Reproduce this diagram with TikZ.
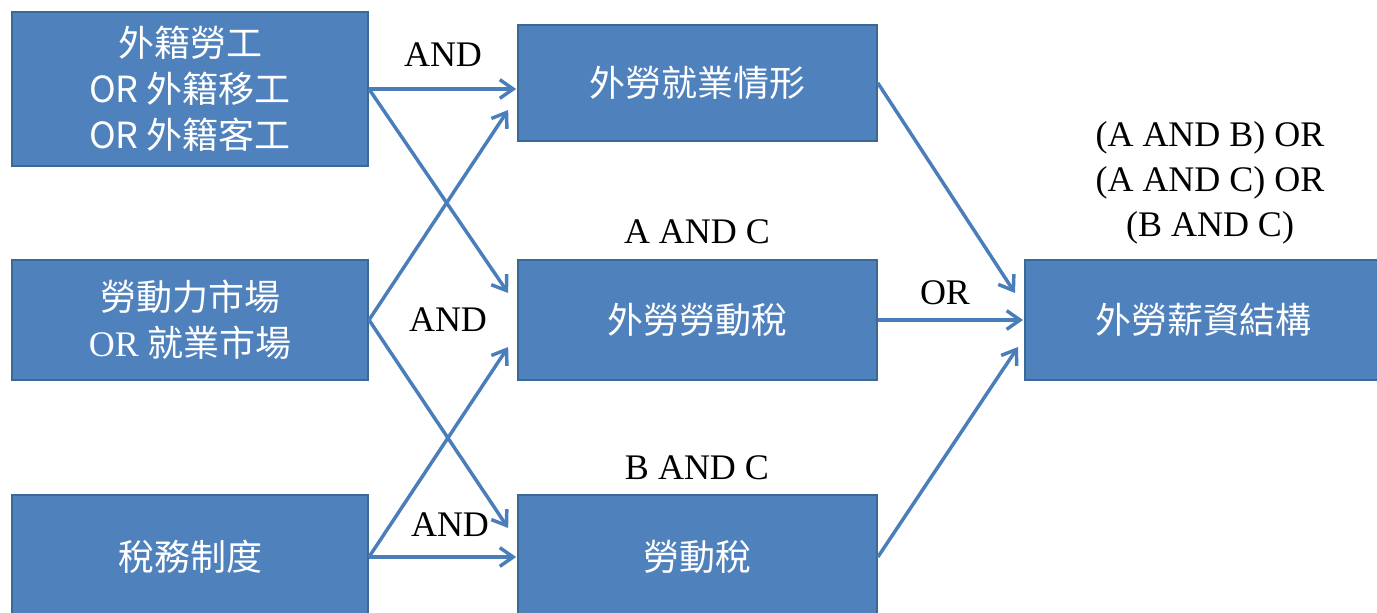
\documentclass[tikz,border=0pt]{standalone}
\usepackage{fontspec}
\setmainfont{Liberation Serif}
\newfontfamily\cjk{Noto Sans CJK TC}
\usepackage{xcolor}
\usepackage{tikz}
\usetikzlibrary{calc, positioning}
\usetikzlibrary{arrows.meta}

\definecolor{boxblue}{HTML}{4F81BD}
\definecolor{boxedge}{HTML}{3A6897}
\definecolor{arrowblue}{HTML}{4A7EBB}

\begin{document}
\begin{tikzpicture}[x=0.75pt, y=-0.75pt]
	\useasboundingbox (0,0) rectangle (1377,613);

	% 定义样式
	\tikzset{
	box/.style = {draw=boxedge, line width=1.5pt, fill=boxblue, text=white, align=center,
		font=\cjk\fontsize{27}{34.5}\selectfont, inner sep=0pt},
	lab/.style = {align=center, font=\fontsize{27}{34}\selectfont, inner sep=0pt},
	arrow/.style = {arrows = {-Straight Barb[length=10pt, width=14pt]}, line width=2.6pt, arrowblue}
	}

	% 左列
	\node[box, minimum width=267pt, minimum height=115.5pt] (src1) at (190,89)
		{外籍勞工\\OR 外籍移工\\OR 外籍客工};
	\node[box, minimum width=267pt, minimum height=90pt] (src2) at (190,320)
		{勞動力市場\\{\rmfamily OR} 就業市場};
	\node[box, minimum width=267pt, minimum height=93pt] (src3) at (190,557) {稅務制度};

	% 中列
	\node[box, minimum width=269pt, minimum height=87pt] (mA) at (697.5,83) {外勞就業情形};
	\node[box, minimum width=269pt, minimum height=90pt] (mB) at (697.5,320) {外勞勞動稅};
	\node[box, minimum width=269pt, minimum height=93pt] (mC) at (697.5,557) {勞動稅};

	% 右列
	\node[box, minimum width=267pt, minimum height=90pt] (res) at (1203,320) {外勞薪資結構};

	% 文字标注
	\node[lab] (and1) at (443,55) {AND};
	\node[lab] (and2) at (448,320) {AND};
	\node[lab] (and3) at (450,525) {AND};
	\node[lab] (labAC) at (697,232) {A AND C};
	\node[lab] (labBC) at (697,468) {B AND C};
	\node[lab] (labOR) at (945,293) {OR};
	\node[lab] (labAll) at (1210,183) {(A AND B) OR\\(A AND C) OR\\(B AND C)};

	% 绘制箭头
	\draw (src1.east) edge [arrow] ($(src1.east -| mA.west)+(-1,0)$);
	\draw (src1.east) edge [arrow] ($(mB.west)+(-9,-27)$);
	\draw (src2.east) edge [arrow] ($(mA.west)+(-9,27)$);
	\draw (src2.east) edge [arrow] ($(mC.west)+(-9,-29)$);
	\draw (src3.east) edge [arrow] ($(mB.west)+(-9,27)$);
	\draw (src3.east) edge [arrow] ($(mC.west)+(-1,0)$);
	\draw (mA.east) edge [arrow] ($(res.west)+(-9,-27)$);
	\draw (mB.east) edge [arrow] ($(res.west)+(-1,0)$);
	\draw (mC.east) edge [arrow] ($(res.west)+(-6,27)$);

\end{tikzpicture}
\end{document}
